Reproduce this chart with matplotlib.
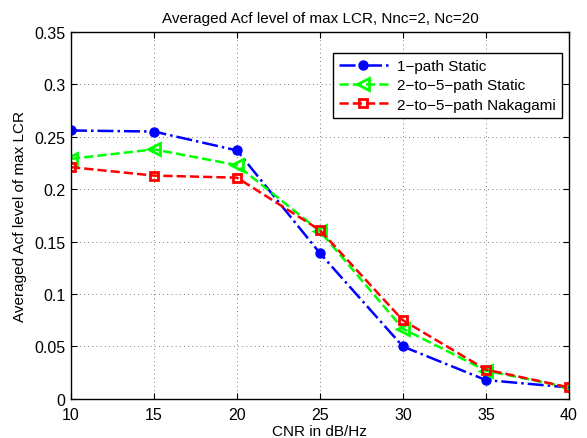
import matplotlib
matplotlib.use('Agg')
import matplotlib.pyplot as plt

# CNR values (dB/Hz)
cnr = [10, 15, 20, 25, 30, 35, 40]

# Averaged Acf level of max LCR per scenario
static_1path = [0.256, 0.255, 0.237, 0.139, 0.050, 0.018, 0.011]
static_2to5 = [0.229, 0.238, 0.223, 0.160, 0.067, 0.027, 0.011]
nakagami_2to5 = [0.221, 0.213, 0.211, 0.161, 0.075, 0.028, 0.011]

labels = ['1\u2212path Static', '2\u2212to\u22125\u2212path Static', '2\u2212to\u22125\u2212path Nakagami']

plt.rcParams['font.family'] = ['Liberation Sans', 'DejaVu Sans']
plt.rcParams['font.size'] = 11

fig = plt.figure(figsize=(5.87, 4.39), dpi=100)
ax = fig.add_axes([0.121, 0.089, 0.848, 0.836])

ax.plot(cnr, static_1path, color='#0000ff', linestyle='-.', linewidth=1.8,
        marker='o', markersize=6.5, label=labels[0])
ax.plot(cnr, static_2to5, color='#00ff00', linestyle='--', linewidth=1.8,
        marker='<', markersize=8, markerfacecolor='none', markeredgewidth=2, label=labels[1])
ax.plot(cnr, nakagami_2to5, color='#ff0000', linestyle='--', linewidth=1.8,
        marker='s', markersize=6, markerfacecolor='none', markeredgewidth=2, label=labels[2])

ax.set_xlim(10, 40)
ax.set_ylim(0, 0.35)
ax.set_xticks(cnr)
ax.set_yticks([0, 0.05, 0.1, 0.15, 0.2, 0.25, 0.3, 0.35])
ax.set_yticklabels(['0', '0.05', '0.1', '0.15', '0.2', '0.25', '0.3', '0.35'])
ax.tick_params(direction='in', top=True, right=True, length=4, labelsize=11.5)
ax.tick_params(axis='x', pad=6)
ax.tick_params(axis='y', pad=4)
ax.grid(True, linestyle=(0, (1, 4)), color='black', linewidth=0.6, alpha=0.7)
for s in ax.spines.values():
    s.set_linewidth(1)

ax.set_title('Averaged Acf level of max LCR, Nnc=2, Nc=20', fontsize=11, pad=7)
ax.set_xlabel('CNR in dB/Hz', fontsize=11, labelpad=1)
ax.set_ylabel('Averaged Acf level of max LCR', fontsize=11, labelpad=5)

leg = ax.legend(loc='upper right', bbox_to_anchor=(0.986, 0.943), borderaxespad=0,
                fancybox=False, edgecolor='black', framealpha=1, fontsize=11,
                handlelength=3.2, borderpad=0.4, labelspacing=0.35, handletextpad=0.6)
leg.get_frame().set_linewidth(1)

fig.savefig('out.png', dpi=100)
